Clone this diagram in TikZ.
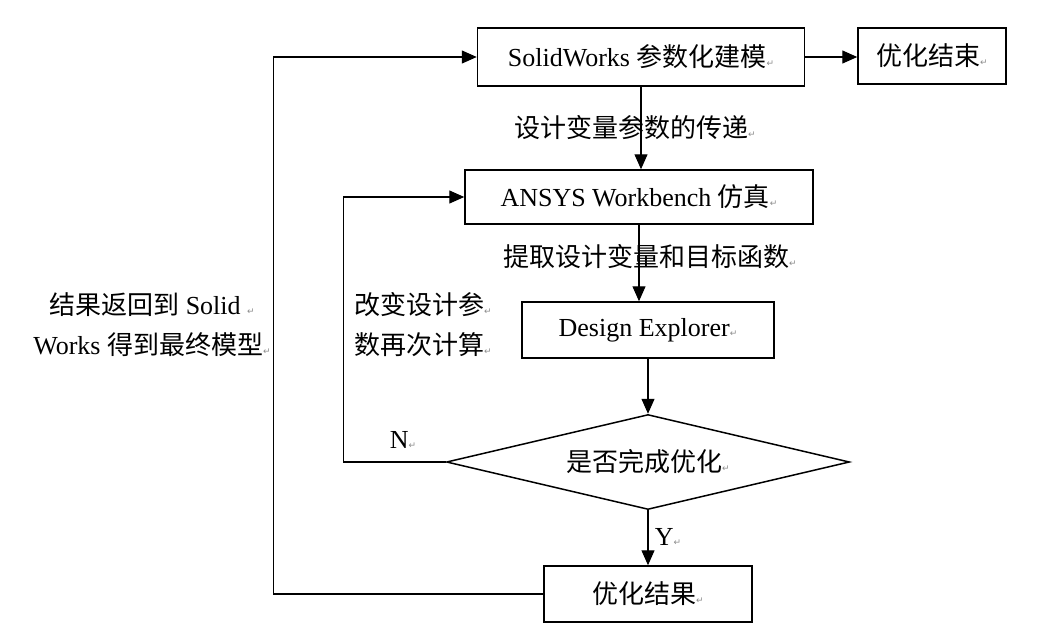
\documentclass[tikz,border=0pt]{standalone}
\usepackage{fontspec}
\setmainfont{Liberation Serif}
\newfontfamily\cjk{Noto Sans CJK SC}
\newfontfamily\marksym{DejaVu Sans}
\usetikzlibrary{arrows.meta,shapes.geometric}
\newcommand{\parmark}{{\marksym\fontsize{9}{9}\selectfont\color{black!45}↵}}
\begin{document}
\begin{tikzpicture}[
  x=1pt, y=-1pt,
  every node/.style={font=\fontsize{26}{40}\selectfont},
  block/.style={draw, line width=1.5pt, inner sep=0pt, align=center},
  decide/.style={draw, diamond, line width=1.5pt, inner sep=0pt, aspect=4.24,
                 minimum width=403pt, minimum height=95pt},
  lbl/.style={align=center, inner sep=0pt},
  arr/.style={-{Triangle[length=15pt,width=13pt]}, line width=1.3pt},
]
  \useasboundingbox (0,0) rectangle (1046,635);

  \node[block, minimum width=327pt, minimum height=58pt] (sw) at (641,57)
    {SolidWorks {\cjk 参数化建模}\parmark};
  \node[block, minimum width=148pt, minimum height=56pt] (end) at (932,56)
    {\cjk 优化结束\parmark};
  \node[block, minimum width=348pt, minimum height=54pt] (ansys) at (639,197)
    {ANSYS Workbench {\cjk 仿真}\parmark};
  \node[block, minimum width=252pt, minimum height=56pt] (de) at (648,330)
    {Design Explorer\parmark};
  \node[decide] (dia) at (648,462) {\cjk 是否完成优化\parmark};
  \node[block, minimum width=208pt, minimum height=56pt] (res) at (648,594)
    {\cjk 优化结果\parmark};

  % labels
  \node[lbl] (l1) at (635,128) {\cjk 设计变量参数的传递\parmark};
  \node[lbl] (l2) at (650,257) {\cjk 提取设计变量和目标函数\parmark};
  \node[lbl, align=left] (l3) at (423,325) {{\cjk 改变设计参}\parmark\\{\cjk 数再次计算}\parmark};
  \node[lbl] (l4) at (152,325) {{\cjk 结果返回到} Solid \parmark\\Works {\cjk 得到最终模型}\parmark};
  \node[lbl] (nn) at (403,440) {N\parmark};
  \node[lbl] (yy) at (668,537) {Y\parmark};

  % connectors
  \draw[arr] (sw.east) -- (end.west |- sw.east);
  \draw[arr] (sw.south) -- (sw.south |- ansys.north);
  \draw[arr] (ansys.south) -- (ansys.south |- de.north);
  \draw[arr] (de.south) -- (dia.north);
  \draw[arr] (dia.south) -- (res.north);
  \draw[arr] (dia.west) -- ++(-102,0) |- (ansys.west);
  \draw[arr] (res.west) -- ++(-270,0) |- (sw.west);
\end{tikzpicture}
\end{document}
